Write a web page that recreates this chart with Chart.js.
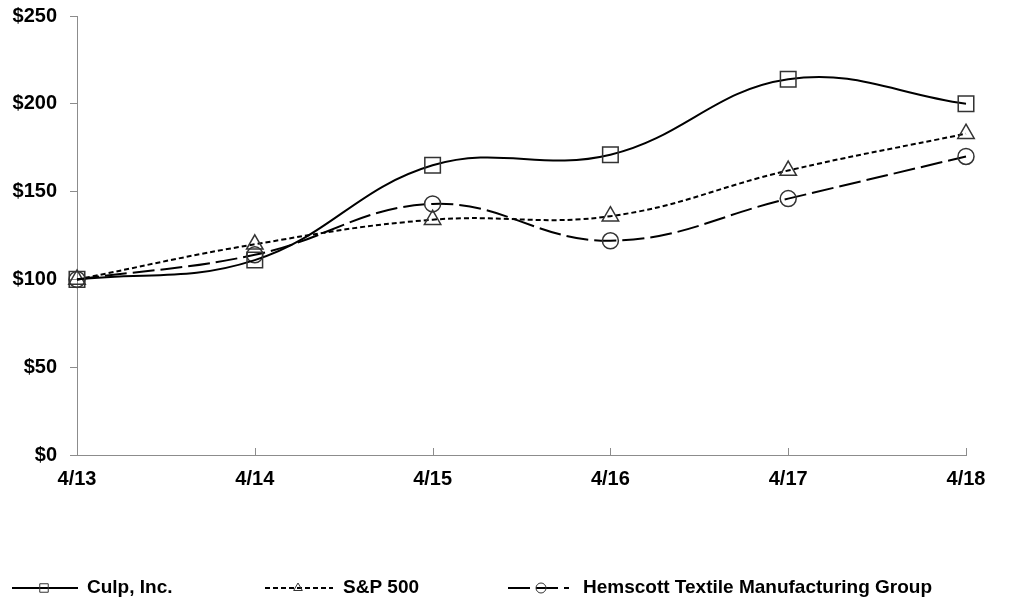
<!DOCTYPE html>
<html>
<head>
<meta charset="utf-8">
<script src="https://cdn.jsdelivr.net/npm/chart.js@4/dist/chart.umd.min.js"></script>
<style>
  html, body { margin: 0; padding: 0; background: #fff; }
  #wrap { width: 1031px; height: 606px; }
</style>
</head>
<body>
<div id="wrap"><canvas id="chart" width="1031" height="606"></canvas></div>
<script>
// data
var periods = ["4/13", "4/14", "4/15", "4/16", "4/17", "4/18"];
var culp = [100, 111, 165, 171, 214, 200];
var sp500 = [100, 120, 134, 136, 162, 183];
var hemscott = [100, 114, 143, 122, 146, 170];
var yTicks = [0, 50, 100, 150, 200, 250];

var axisGray = '#8c8c8c';
var fontFam = '"Liberation Sans", Arial, sans-serif';

// x tick marks pointing up into the plot, like the original
var xTickMarks = {
    id: 'xTickMarks',
    afterDraw: function (chart) {
        var ctx = chart.ctx;
        var xs = chart.scales.x;
        var y0 = chart.chartArea.bottom;
        ctx.save();
        ctx.strokeStyle = axisGray;
        ctx.lineWidth = 1;
        for (var i = 1; i < periods.length; i++) {
            var x = Math.round(xs.getPixelForTick(i)) + 0.5;
            ctx.beginPath();
            ctx.moveTo(x, y0);
            ctx.lineTo(x, y0 - 7);
            ctx.stroke();
        }
        ctx.restore();
    }
};

// legend at the bottom: line sample + marker + label
var bottomLegend = {
    id: 'bottomLegend',
    afterDraw: function (chart) {
        var ctx = chart.ctx;
        var y = 588;
        var items = [
            { x1: 12, x2: 78, mx: 44, r: 6, dash: [], style: 'rect', text: 'Culp, Inc.', tx: 87 },
            { x1: 265, x2: 333, mx: 298, r: 5, dash: [5, 3], style: 'triangle', text: 'S&P 500', tx: 343 },
            { x1: 508, x2: 569, mx: 541, r: 5, dash: [22, 6], style: 'circle', text: 'Hemscott Textile Manufacturing Group', tx: 583 }
        ];
        ctx.save();
        items.forEach(function (it) {
            ctx.strokeStyle = '#000';
            ctx.lineWidth = 2;
            ctx.setLineDash(it.dash);
            ctx.beginPath();
            ctx.moveTo(it.x1, y);
            ctx.lineTo(it.x2, y);
            ctx.stroke();
            ctx.setLineDash([]);
            ctx.lineWidth = 1;
            ctx.strokeStyle = '#333';
            ctx.fillStyle = 'rgba(0,0,0,0)';
            Chart.helpers.drawPoint(ctx, { pointStyle: it.style, radius: it.r, rotation: 0, borderWidth: 1 }, it.mx, y);
            ctx.fillStyle = '#000';
            ctx.font = 'bold 19px ' + fontFam;
            ctx.textBaseline = 'middle';
            ctx.textAlign = 'left';
            ctx.fillText(it.text, it.tx, y);
        });
        ctx.restore();
    }
};

function series(label, data, dash, style, r) {
    return {
        label: label,
        data: data,
        borderColor: '#000',
        borderWidth: 2,
        borderDash: dash,
        tension: 0.4,
        pointStyle: style,
        pointRadius: r,
        pointBorderWidth: 1.5,
        pointBorderColor: '#333',
        pointBackgroundColor: 'rgba(0,0,0,0)',
        fill: false
    };
}

new Chart(document.getElementById('chart'), {
    type: 'line',
    data: {
        labels: periods,
        datasets: [
            series('Culp, Inc.', culp, [], 'rect', 11),
            series('S&P 500', sp500, [5, 3], 'triangle', 9.5),
            series('Hemscott Textile Manufacturing Group', hemscott, [22, 6], 'circle', 8)
        ]
    },
    options: {
        responsive: false,
        animation: false,
        layout: { padding: { top: 16, right: 65, left: 0, bottom: 0 } },
        plugins: {
            legend: { display: false },
            tooltip: { enabled: false }
        },
        scales: {
            x: {
                offset: false,
                afterFit: function (s) { s.height = 151; },
                grid: { drawOnChartArea: false, drawTicks: false },
                border: { color: axisGray, width: 1 },
                ticks: {
                    padding: 12,
                    color: '#000',
                    maxRotation: 0,
                    font: { family: fontFam, size: 20, weight: 'bold' }
                }
            },
            y: {
                min: 0,
                max: 250,
                afterFit: function (s) {
                    s.width = 77;
                    s.paddingTop = 0;
                    s.paddingBottom = 0;
                },
                afterBuildTicks: function (s) {
                    s.ticks = yTicks.map(function (v) { return { value: v }; });
                },
                grid: { drawOnChartArea: false, drawTicks: true, tickLength: 7, color: axisGray },
                border: { color: axisGray, width: 1 },
                ticks: {
                    padding: 13,
                    color: '#000',
                    font: { family: fontFam, size: 20, weight: 'bold' },
                    callback: function (v) { return '$' + v; }
                }
            }
        }
    },
    plugins: [xTickMarks, bottomLegend]
});
</script>
</body>
</html>
